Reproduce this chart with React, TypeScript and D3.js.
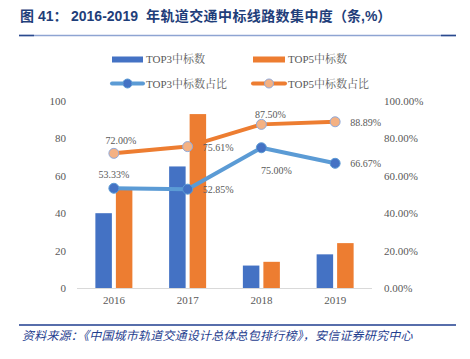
import React from "react";
import * as d3 from "d3";

const categories = ["2016", "2017", "2018", "2019"];
const top3Count = [40, 65, 12, 18];
const top5Count = [54, 93, 14, 24];
const top3Share = [53.33, 52.85, 75.0, 66.67];
const top5Share = [72.0, 75.61, 87.5, 88.89];
const leftTicks = [0, 20, 40, 60, 80, 100];
const rightTicks = [0, 20, 40, 60, 80, 100];

const W = 470;
const H = 359;
const serif = "'Liberation Serif', 'Times New Roman', 'Noto Serif CJK SC', 'Noto Sans CJK SC', serif";
const sans = "'Liberation Sans', Arial, 'Noto Sans CJK SC', sans-serif";

export default function App() {
  const x = d3.scaleBand().domain(categories).range([77, 372]);
  const yL = d3.scaleLinear().domain([0, 100]).range([288, 101]);
  const yR = d3.scaleLinear().domain([0, 100]).range([288, 101]);
  const barW = 16.5;
  const gap = 4;
  const cx = (c: string) => (x(c) as number) + x.bandwidth() / 2;

  const line = d3
    .line<number>()
    .x((_, i) => cx(categories[i]))
    .y((d) => yR(d));

  const gray = "#595959";
  const labelPos3: [number, number, string][] = [
    [0, -10, "middle"],
    [15, 4, "start"],
    [15, 26, "middle"],
    [15, 4, "start"],
  ];
  const labelPos5: [number, number, string][] = [
    [7, -9, "middle"],
    [15, 4, "start"],
    [9, -6, "middle"],
    [15, 4, "start"],
  ];

  return (
    <svg width={W} height={H} style={{ position: "absolute", left: 0, top: 0 }}>
      <rect width={W} height={H} fill="#fff" />
      <text y={21} fontFamily={sans} fontWeight="bold" fontSize={14} fill="#1F3E7A">
        <tspan x={20}>图</tspan>
        <tspan x={38}>41：</tspan>
        <tspan x={71}>2016-2019</tspan>
        <tspan x={146} letterSpacing={0.4}>年轨道交通中标线路数集中度</tspan>
        <tspan x={333}>（条,%）</tspan>
      </text>
      <line x1={19} x2={456} y1={35.5} y2={35.5} stroke="#8EA4D2" strokeWidth={1.5} />
      <line x1={19} x2={34} y1={35.5} y2={35.5} stroke="#2A4A8E" strokeWidth={1.5} />
      <line x1={441} x2={456} y1={35.5} y2={35.5} stroke="#2A4A8E" strokeWidth={1.5} />

      {/* legend */}
      <g fontFamily={serif} fontSize={11} fill={gray}>
        <rect x={112} y={56.5} width={31} height={6} fill="#4472C4" />
        <text x={146} y={63}>TOP3中标数</text>
        <rect x={253} y={56.5} width={32} height={6} fill="#ED7D31" />
        <text x={288} y={63}>TOP5中标数</text>
        <line x1={112} x2={143} y1={83.5} y2={83.5} stroke="#5B9BD5" strokeWidth={4} strokeLinecap="round" />
        <circle cx={127.5} cy={83.5} r={4.5} fill="#4472C4" stroke="#5B9BD5" strokeWidth={1} />
        <text x={146} y={87.5}>TOP3中标数占比</text>
        <line x1={253} x2={285} y1={83.5} y2={83.5} stroke="#ED7D31" strokeWidth={4} strokeLinecap="round" />
        <circle cx={269} cy={83.5} r={4.5} fill="#F4B183" stroke="#8FAADC" strokeWidth={1} />
        <text x={288} y={87.5}>TOP5中标数占比</text>
      </g>

      {/* axis labels */}
      <g fontFamily={serif} fontSize={11} fill={gray}>
        {leftTicks.map((t) => (
          <text key={t} x={66} y={yL(t) + 4} textAnchor="end">
            {t}
          </text>
        ))}
        {rightTicks.map((t) => (
          <text key={t} x={384} y={yR(t) + 4} textAnchor="start">
            {t.toFixed(2)}%
          </text>
        ))}
        {categories.map((c) => (
          <text key={c} x={cx(c)} y={304} textAnchor="middle">
            {c}
          </text>
        ))}
      </g>

      {/* bars */}
      {categories.map((c, i) => (
        <g key={c}>
          <rect x={cx(c) - gap / 2 - barW} y={yL(top3Count[i])} width={barW} height={yL(0) - yL(top3Count[i])} fill="#4472C4" />
          <rect x={cx(c) + gap / 2} y={yL(top5Count[i])} width={barW} height={yL(0) - yL(top5Count[i])} fill="#ED7D31" />
        </g>
      ))}

      <line x1={77} x2={372} y1={288.5} y2={288.5} stroke="#D9D9D9" strokeWidth={1} />

      {/* lines */}
      <path d={line(top5Share) || ""} fill="none" stroke="#ED7D31" strokeWidth={4} strokeLinejoin="round" />
      <path d={line(top3Share) || ""} fill="none" stroke="#5B9BD5" strokeWidth={4} strokeLinejoin="round" />
      {top5Share.map((v, i) => (
        <circle key={"o" + i} cx={cx(categories[i])} cy={yR(v)} r={5} fill="#F4B183" stroke="#8FAADC" strokeWidth={1} />
      ))}
      {top3Share.map((v, i) => (
        <circle key={"b" + i} cx={cx(categories[i])} cy={yR(v)} r={5} fill="#4472C4" stroke="#5B9BD5" strokeWidth={1} />
      ))}

      {/* data labels */}
      <g fontFamily={serif} fontSize={10} fill={gray}>
        {top3Share.map((v, i) => (
          <text key={"l3" + i} x={cx(categories[i]) + labelPos3[i][0]} y={yR(v) + labelPos3[i][1]} textAnchor={labelPos3[i][2] as any}>
            {v.toFixed(2)}%
          </text>
        ))}
        {top5Share.map((v, i) => (
          <text key={"l5" + i} x={cx(categories[i]) + labelPos5[i][0]} y={yR(v) + labelPos5[i][1]} textAnchor={labelPos5[i][2] as any}>
            {v.toFixed(2)}%
          </text>
        ))}
      </g>

      {/* footer */}
      <line x1={19} x2={456} y1={325} y2={325} stroke="#1F3E8F" strokeWidth={1.5} />
      <text x={22} y={340} fontFamily={"'Noto Sans CJK SC', sans-serif"} fontStyle="italic" fontSize={12} letterSpacing={0.2} fill="#1F3E8F">
        资料来源：《中国城市轨道交通设计总体总包排行榜》，安信证券研究中心
      </text>
    </svg>
  );
}
